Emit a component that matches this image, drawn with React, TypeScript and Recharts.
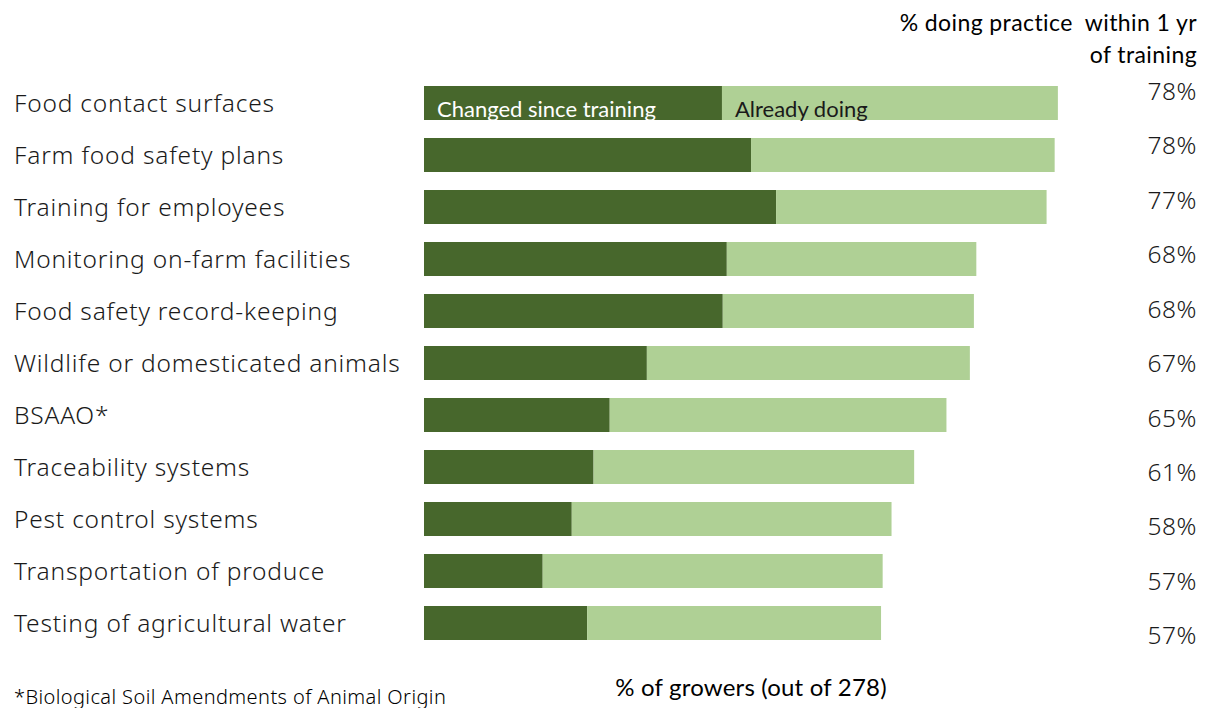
import { BarChart, Bar, XAxis, YAxis, LabelList } from "recharts";

const categories = [
  "Food contact surfaces",
  "Farm food safety plans",
  "Training for employees",
  "Monitoring on-farm facilities",
  "Food safety record-keeping",
  "Wildlife or domesticated animals",
  "BSAAO*",
  "Traceability systems",
  "Pest control systems",
  "Transportation of produce",
  "Testing of agricultural water",
];
const changedSinceTraining = [36.9, 40.5, 43.6, 37.5, 37.0, 27.6, 23.0, 21.0, 18.3, 14.7, 20.2];
const alreadyDoing = [41.6, 37.6, 33.5, 30.9, 31.1, 40.0, 41.7, 39.7, 39.6, 42.1, 36.4];
const withinOneYear = [78, 78, 77, 68, 68, 67, 65, 61, 58, 57, 57];

const DARK = "#47672c";
const LIGHT = "#afd095";
const LABEL_FONT = "'Noto Sans', 'Open Sans', sans-serif";
const HEAD_FONT = "Lato, 'Open Sans', sans-serif";

const data = categories.map((name, i) => ({
  name,
  changed: changedSinceTraining[i],
  already: alreadyDoing[i],
}));

function LeftTick({ y, payload }: any) {
  return (
    <text x={14} y={y} dy="0.35em" textAnchor="start" fontSize={24.5} fontWeight={300}
      letterSpacing={0.8} fontFamily={LABEL_FONT} fill="#1a1a1a">
      {payload.value}
    </text>
  );
}

function RightTick({ y, index }: any) {
  return (
    <text x={1197} y={y} dy="0.35em" textAnchor="end" fontSize={24.5} fontWeight={300}
      letterSpacing={0.5} fontFamily={LABEL_FONT} fill="#1a1a1a">
      {withinOneYear[index]}%
    </text>
  );
}

function seriesName(name: string, color: string) {
  return (props: any) => {
    if (props.index !== 0) return null;
    const { x, y, height } = props;
    return (
      <text x={Number(x) + 13} y={Number(y) + Number(height) / 2 + 6} dy="0.35em"
        fontSize={22} fontFamily={HEAD_FONT} fill={color}>
        {name}
      </text>
    );
  };
}

export default function App() {
  return (
    <div style={{ position: "absolute", left: 0, top: 0, width: 1206, height: 708, background: "#fff" }}>
      <div style={{
        position: "absolute", right: 9, top: 6, textAlign: "right",
        fontFamily: HEAD_FONT, fontSize: 23, letterSpacing: 0.4, lineHeight: "32px", color: "#000",
      }}>
        <div>% doing practice&nbsp; within 1 yr</div>
        <div>of training</div>
      </div>
      <BarChart
        width={1206}
        height={708}
        data={data}
        layout="vertical"
        margin={{ top: 64, right: 0, bottom: 0, left: 0 }}
        barSize={34}
      >
        <XAxis
          type="number"
          domain={[0, 80]}
          height={32}
          tick={false}
          axisLine={false}
          tickLine={false}
          label={(p: any) => {
            const vb = p.viewBox;
            return (
              <text x={vb.x + vb.width / 2 + 4} y={vb.y + 12} dy="0.35em" textAnchor="middle"
                fontSize={24} letterSpacing={0.2} fontFamily={HEAD_FONT} fill="#000">
                % of growers (out of 278)
              </text>
            );
          }}
        />
        <YAxis
          yAxisId="left"
          type="category"
          dataKey="name"
          width={424}
          axisLine={false}
          tickLine={false}
          padding={{ top: 13, bottom: 27 }}
          tick={<LeftTick />}
        />
        <YAxis
          yAxisId="right"
          orientation="right"
          type="category"
          dataKey="name"
          width={136}
          axisLine={false}
          tickLine={false}
          padding={{ top: 0, bottom: 13 }}
          tick={<RightTick />}
        />
        <Bar yAxisId="left" dataKey="changed" stackId="a" fill={DARK} isAnimationActive={false}>
          <LabelList dataKey="changed" content={seriesName("Changed since training", "#ffffff")} />
        </Bar>
        <Bar yAxisId="left" dataKey="already" stackId="a" fill={LIGHT} isAnimationActive={false}>
          <LabelList dataKey="already" content={seriesName("Already doing", "#1a1a1a")} />
        </Bar>
      </BarChart>
      <div style={{
        position: "absolute", left: 14, top: 683, fontFamily: LABEL_FONT,
        fontSize: 20, fontWeight: 300, letterSpacing: 0.4, color: "#000", whiteSpace: "nowrap",
      }}>
        *Biological Soil Amendments of Animal Origin
      </div>
    </div>
  );
}
